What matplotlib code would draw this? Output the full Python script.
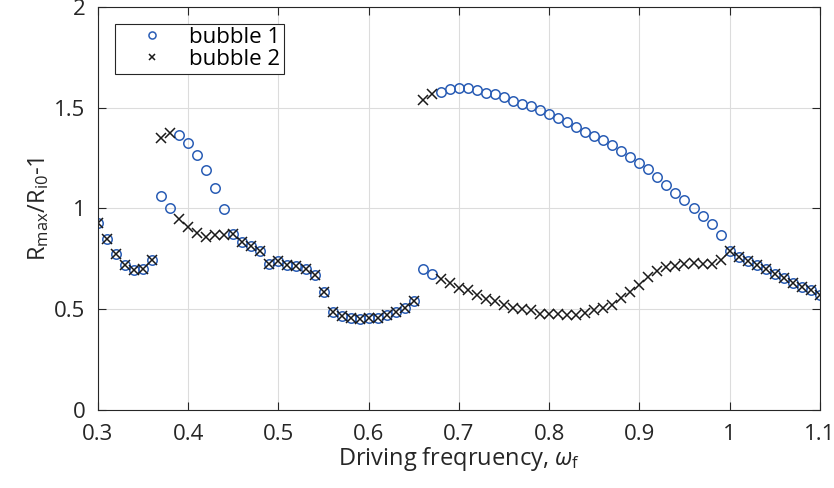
"""
Max bubble radius vs driving frequency, two bubbles
"""

import numpy as np
import matplotlib
matplotlib.use("Agg")
import matplotlib.pyplot as plt

plt.rcParams['font.family'] = ['Open Sans', 'DejaVu Sans']
plt.rcParams['mathtext.fontset'] = 'custom'
plt.rcParams['mathtext.rm'] = 'Open Sans'
plt.rcParams['mathtext.it'] = 'Open Sans:italic'

# driving frequency, 0.30 .. 1.10
freq = [0.30, 0.31, 0.32, 0.33, 0.34, 0.35, 0.36, 0.37, 0.38, 0.39,
        0.40, 0.41, 0.42, 0.43, 0.44, 0.45, 0.46, 0.47, 0.48, 0.49,
        0.50, 0.51, 0.52, 0.53, 0.54, 0.55, 0.56, 0.57, 0.58, 0.59,
        0.60, 0.61, 0.62, 0.63, 0.64, 0.65, 0.66, 0.67, 0.68, 0.69,
        0.70, 0.71, 0.72, 0.73, 0.74, 0.75, 0.76, 0.77, 0.78, 0.79,
        0.80, 0.81, 0.82, 0.83, 0.84, 0.85, 0.86, 0.87, 0.88, 0.89,
        0.90, 0.91, 0.92, 0.93, 0.94, 0.95, 0.96, 0.97, 0.98, 0.99,
        1.00, 1.01, 1.02, 1.03, 1.04, 1.05, 1.06, 1.07, 1.08, 1.09, 1.10]

bubble1 = [0.928, 0.849, 0.774, 0.720, 0.692, 0.700, 0.746, 1.061, 1.002, 1.365,
           1.324, 1.264, 1.190, 1.102, 0.995, 0.873, 0.832, 0.813, 0.787, 0.725,
           0.738, 0.720, 0.713, 0.698, 0.667, 0.584, 0.484, 0.464, 0.455, 0.449,
           0.455, 0.455, 0.469, 0.484, 0.505, 0.538, 0.698, 0.673, 1.579, 1.594,
           1.596, 1.596, 1.586, 1.573, 1.566, 1.554, 1.533, 1.520, 1.507, 1.487,
           1.467, 1.446, 1.428, 1.406, 1.380, 1.358, 1.339, 1.312, 1.286, 1.256,
           1.223, 1.193, 1.158, 1.116, 1.076, 1.042, 1.000, 0.960, 0.921, 0.866,
           0.789, 0.761, 0.741, 0.720, 0.700, 0.672, 0.653, 0.632, 0.612, 0.596, 0.569]

bubble2 = [0.928, 0.849, 0.774, 0.720, 0.692, 0.700, 0.746, 1.347, 1.376, 0.948,
           0.906, 0.876, 0.860, 0.866, 0.866, 0.873, 0.832, 0.813, 0.787, 0.725,
           0.738, 0.720, 0.713, 0.698, 0.667, 0.584, 0.484, 0.464, 0.455, 0.449,
           0.455, 0.455, 0.469, 0.484, 0.505, 0.538, 1.537, 1.569, 0.650, 0.629,
           0.604, 0.593, 0.571, 0.550, 0.538, 0.522, 0.507, 0.500, 0.494, 0.477,
           0.477, 0.474, 0.469, 0.470, 0.482, 0.494, 0.507, 0.522, 0.553, 0.584,
           0.622, 0.658, 0.687, 0.708, 0.716, 0.725, 0.730, 0.725, 0.725, 0.744,
           0.789, 0.761, 0.741, 0.720, 0.700, 0.672, 0.653, 0.632, 0.612, 0.596, 0.569]

axcol = '#262626'

fig = plt.figure(figsize=(8.34, 4.88), dpi=100)
ax = fig.add_axes([0.1175, 0.160, 0.8655, 0.826])

ax.plot(freq, bubble1, 'o', ls='none', mfc='none', mec='#2a5db5', mew=1.1, ms=6.8, label='bubble 1')
ax.plot(freq, bubble2, 'x', ls='none', color='#1a1a1a', mew=1.1, ms=6.5, label='bubble 2')

ax.set_xlim(0.3, 1.1)
ax.set_ylim(0, 2)
ax.set_xticks(np.arange(0.3, 1.11, 0.1))
ax.set_xticklabels(['0.3', '0.4', '0.5', '0.6', '0.7', '0.8', '0.9', '1', '1.1'])
ax.set_yticks([0, 0.5, 1, 1.5, 2])
ax.set_yticklabels(['0', '0.5', '1', '1.5', '2'])

ax.grid(True, color='#dcdcdc', lw=0.8)
ax.set_axisbelow(True)
ax.tick_params(direction='in', top=True, right=True, length=6, width=0.8,
               colors=axcol, labelsize=16)
ax.tick_params(axis='x', pad=10)
ax.tick_params(axis='y', pad=9)
for s in ax.spines.values():
    s.set_color(axcol)
    s.set_linewidth(0.8)

ax.set_xlabel(r'Driving freqruency, $\omega_\mathregular{f}$', fontsize=17, color=axcol, labelpad=0)
ax.set_ylabel(r'R$_\mathregular{max}$/R$_\mathregular{i0}$-1', fontsize=17, color=axcol, labelpad=2)

leg = ax.legend(loc='upper left', bbox_to_anchor=(0.0235, 0.958), fontsize=16, frameon=True,
                fancybox=False, edgecolor=axcol, framealpha=1, markerscale=0.75,
                handlelength=3.0, handletextpad=0.2, borderpad=0.15, labelspacing=0.05,
                borderaxespad=0)
leg.get_frame().set_linewidth(0.8)

fig.savefig('out.png', dpi=100)
